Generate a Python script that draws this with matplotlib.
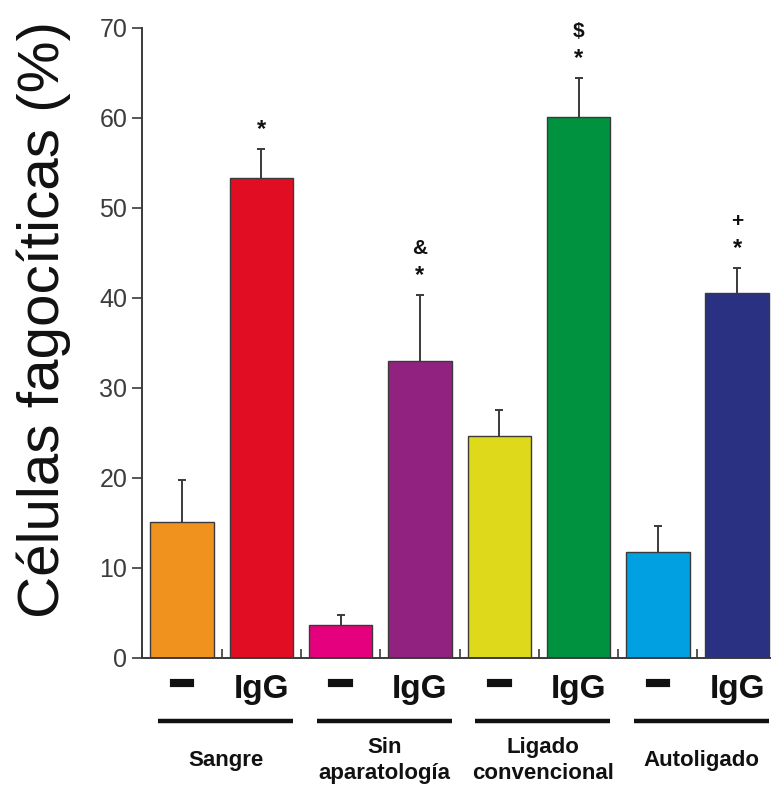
import matplotlib
matplotlib.use("Agg")
import matplotlib.pyplot as plt
import matplotlib.patheffects as pe
import numpy as np

plt.rcParams['font.family'] = ['Liberation Sans', 'DejaVu Sans']

# datos
grupos = ["Sangre", "Sin\naparatología", "Ligado\nconvencional", "Autoligado"]
tratamientos = ["–", "IgG", "–", "IgG", "–", "IgG", "–", "IgG"]
valores = [15.1, 53.3, 3.7, 33.0, 24.7, 60.1, 11.8, 40.6]
errores = [4.7, 3.3, 1.1, 7.3, 2.9, 4.3, 2.9, 2.7]
marca_1 = ["", "*", "", "*", "", "*", "", "*"]
marca_2 = ["", "", "", "&", "", "$", "", "+"]
colores = ["#F0921E", "#E10E23", "#E5007D", "#922280",
           "#DEDA1B", "#00923F", "#00A0E1", "#2B3182"]
y_ticks = [0, 10, 20, 30, 40, 50, 60, 70]

GRIS = "#3a3a3a"

fig = plt.figure(figsize=(7.71, 7.88), dpi=100)
ax = fig.add_axes([0.1847, 0.165, 0.8228, 0.7995])

x = np.arange(len(valores))
ax.bar(x, valores, width=0.8, color=colores, edgecolor=GRIS, linewidth=1.0, zorder=2)
# la mitad inferior de la barra de error queda tapada por la barra
ax.errorbar(x, valores, yerr=errores, fmt='none',
            ecolor=GRIS, elinewidth=1.4, capsize=2.6, capthick=1.4, zorder=1)

for i in range(len(valores)):
    tope = valores[i] + errores[i]
    if marca_1[i]:
        ax.annotate(marca_1[i], xy=(i, tope), xytext=(0, 14), textcoords='offset points',
                    ha='center', va='center', fontsize=17, fontweight='bold', color='#111111')
    if marca_2[i]:
        ax.annotate(marca_2[i], xy=(i, tope), xytext=(0, 34), textcoords='offset points',
                    ha='center', va='center', fontsize=15, fontweight='bold', color='#111111')

ax.set_xlim(-0.5, 7.5)
ax.set_ylim(0, 70)
ax.set_yticks(y_ticks)
ax.set_yticklabels([str(t) for t in y_ticks])
ax.set_xticks(np.arange(-0.5, 7.6, 1.0))
ax.set_xticklabels([])

for s in ["top", "right"]:
    ax.spines[s].set_visible(False)
for s in ["left", "bottom"]:
    ax.spines[s].set_color(GRIS)
    ax.spines[s].set_linewidth(1.4)

ax.tick_params(axis='y', direction='out', length=7, width=1.2, color=GRIS,
               labelsize=18, labelcolor="#3c3c3c", pad=4)
ax.tick_params(axis='x', direction='in', length=6.5, width=1.2, color=GRIS)

ax.set_ylabel("Células fagocíticas (%)", fontsize=42, color="#111111")
ax.yaxis.set_label_coords(-0.113, 0.537)

trans = ax.get_xaxis_transform()
for i, t in enumerate(tratamientos):
    if t == "IgG":
        ax.text(i, -0.0635, t, transform=trans, ha='center', va='baseline',
                fontsize=24, fontweight='bold', color='#111111')
    else:
        ax.text(i, -0.058, t, transform=trans, ha='center', va='baseline',
                fontsize=30, fontweight='bold', color='#111111',
                path_effects=[pe.withStroke(linewidth=3, foreground='#111111',
                                            joinstyle='miter', capstyle='butt')])

for g, nombre in enumerate(grupos):
    x0 = 2 * g - 0.3
    x1 = 2 * g + 1.4
    ax.plot([x0, x1], [-0.1, -0.1], transform=trans, color='#111111',
            linewidth=3.2, solid_capstyle='butt', clip_on=False)
    ax.text((x0 + x1) / 2, -0.163, nombre, transform=trans, ha='center', va='center',
            fontsize=16, fontweight='bold', color='#111111', linespacing=1.3)

fig.savefig("out.png", dpi=100)
